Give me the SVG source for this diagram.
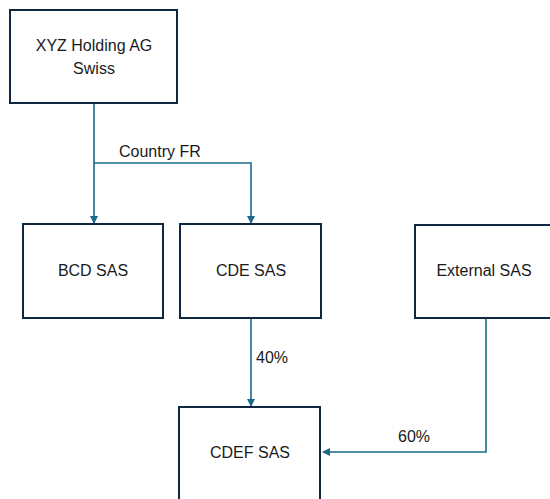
<svg xmlns="http://www.w3.org/2000/svg" width="550" height="499" viewBox="0 0 550 499">
<style>
.box{fill:#fff;stroke:#0e2841;stroke-width:2}
.t{font-family:"Liberation Sans",Arial,sans-serif;font-size:16px;fill:#1a1a1a;text-anchor:middle}
.l{font-family:"Liberation Sans",Arial,sans-serif;font-size:16px;fill:#1a1a1a}
.c{fill:none;stroke:#1b6a8c;stroke-width:1.6}
</style>
<defs>
<marker id="ah" markerWidth="8" markerHeight="8" refX="7" refY="4" orient="auto" markerUnits="userSpaceOnUse">
<path d="M0,0 L8,4 L0,8 z" fill="#1b6a8c"/>
</marker>
</defs>
<rect width="550" height="499" fill="#fff"/>
<g id="connectors">
<path class="c" d="M94,103 V223" marker-end="url(#ah)"/>
<path class="c" d="M94,163 H251 V223" marker-end="url(#ah)"/>
<path class="c" d="M251,318 V406" marker-end="url(#ah)"/>
<path class="c" d="M486,318 V452 H323" marker-end="url(#ah)"/>
<text class="l" x="119" y="157">Country FR</text>
<text class="l" x="256" y="363">40%</text>
<text class="l" x="398" y="442">60%</text>
</g>
<g id="xyz">
<rect class="box" x="10" y="10" width="167" height="93"/>
<text class="t" x="94" y="51">XYZ Holding AG</text>
<text class="t" x="94" y="74">Swiss</text>
</g>
<g id="bcd">
<rect class="box" x="23" y="224" width="140" height="94"/>
<text class="t" x="93" y="276">BCD SAS</text>
</g>
<g id="cde">
<rect class="box" x="180" y="224" width="141" height="94"/>
<text class="t" x="251" y="276">CDE SAS</text>
</g>
<g id="external">
<rect class="box" x="415" y="225" width="145" height="93"/>
<text class="t" x="484" y="276">External SAS</text>
</g>
<g id="cdef">
<rect class="box" x="179" y="407" width="141" height="100"/>
<text class="t" x="250" y="458">CDEF SAS</text>
</g>
</svg>
